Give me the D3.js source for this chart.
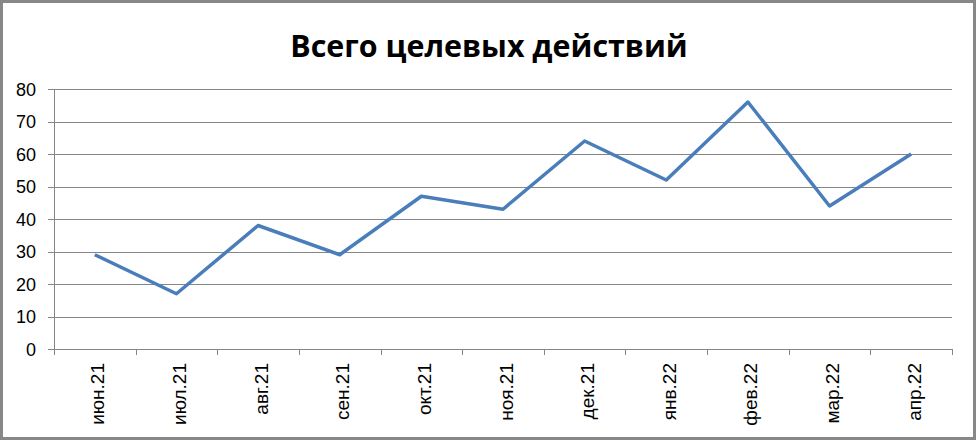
<!DOCTYPE html>
<html>
<head>
<meta charset="utf-8">
<script src="https://cdn.jsdelivr.net/npm/d3@7"></script>
<style>
  body { margin: 0; background: #fff; }
  svg { display: block; font-family: "Liberation Sans", Arial, sans-serif; }
</style>
</head>
<body>
<div id="chart"></div>
<script>
const WIDTH = 976;
const HEIGHT = 440;

const months = ["июн.21", "июл.21", "авг.21", "сен.21", "окт.21", "ноя.21",
  "дек.21", "янв.22", "фев.22", "мар.22", "апр.22"];
const actions = [29, 17, 38, 29, 47, 43, 64, 52, 76, 44, 60];
const yTicks = [0, 10, 20, 30, 40, 50, 60, 70, 80];

const margin = { top: 89, right: 24, bottom: 91, left: 54 };

const svg = d3.select("#chart").append("svg")
  .attr("width", WIDTH)
  .attr("height", HEIGHT);

// outer frame
svg.append("rect")
  .attr("x", 1.5).attr("y", 1.5)
  .attr("width", WIDTH - 3).attr("height", HEIGHT - 3)
  .attr("fill", "#fff")
  .attr("stroke", "#888")
  .attr("stroke-width", 3);

const title = svg.append("text")
  .attr("x", 489)
  .attr("y", 57)
  .attr("text-anchor", "middle")
  .style("font-family", "'Open Sans', 'Noto Sans', sans-serif")
  .style("font-size", "32px")
  .style("font-weight", "bold")
  .text("Всего целевых действий");

// fit title to the width it has in the original (~398px)
const tw = title.node().getComputedTextLength();
if (tw > 0) title.style("font-size", (32 * 398 / tw).toFixed(1) + "px");

const x = d3.scaleBand()
  .domain(months)
  .range([margin.left, WIDTH - margin.right]);

const y = d3.scaleLinear()
  .domain([0, 80])
  .range([HEIGHT - margin.bottom, margin.top]);

const g = svg.append("g");

// gridlines
g.selectAll(".grid")
  .data(yTicks)
  .enter().append("line")
  .attr("class", "grid")
  .attr("x1", margin.left - 6)
  .attr("x2", WIDTH - margin.right)
  .attr("y1", (d) => Math.round(y(d)) + 0.5)
  .attr("y2", (d) => Math.round(y(d)) + 0.5)
  .attr("stroke", "#868686")
  .attr("stroke-width", 1);

// y axis line
g.append("line")
  .attr("x1", margin.left + 0.5).attr("x2", margin.left + 0.5)
  .attr("y1", y(80)).attr("y2", y(0))
  .attr("stroke", "#868686");

g.selectAll(".ylab")
  .data(yTicks)
  .enter().append("text")
  .attr("class", "ylab")
  .attr("x", 36)
  .attr("y", (d) => y(d) + 6.5)
  .attr("text-anchor", "end")
  .style("font-size", "18px")
  .text((d) => d);

// x category ticks
const xEdges = months.map((m) => x(m)).concat([x.range()[1]]);
g.selectAll(".xtick")
  .data(xEdges)
  .enter().append("line")
  .attr("class", "xtick")
  .attr("x1", (d) => Math.round(d) + 0.5)
  .attr("x2", (d) => Math.round(d) + 0.5)
  .attr("y1", y(0))
  .attr("y2", y(0) + 6)
  .attr("stroke", "#868686");

g.selectAll(".xlab")
  .data(months)
  .enter().append("text")
  .attr("class", "xlab")
  .attr("transform", (d) => `translate(${x(d) + x.bandwidth() / 2 + 9.5}, ${y(0) + 14}) rotate(-90)`)
  .attr("text-anchor", "end")
  .style("font-size", "19px")
  .text((d) => d);

const line = d3.line()
  .x((d, i) => x(months[i]) + x.bandwidth() / 2)
  .y((d) => y(d));

g.append("path")
  .datum(actions)
  .attr("d", line)
  .attr("fill", "none")
  .attr("stroke", "#4a7ebb")
  .attr("stroke-width", 3.5)
  .attr("stroke-linejoin", "round");
</script>
</body>
</html>
